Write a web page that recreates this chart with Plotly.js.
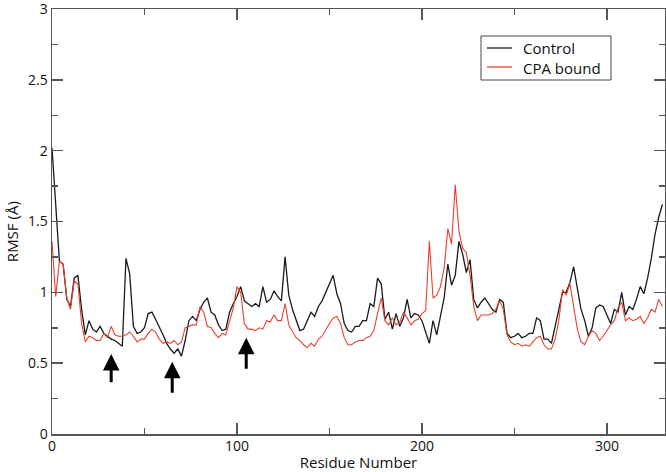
<!DOCTYPE html>
<html>
<head>
<meta charset="utf-8">
<script src="https://cdn.plot.ly/plotly-3.0.1.min.js"></script>
<style>
html,body{margin:0;padding:0;background:#fff;}
#chart{width:666px;height:472px;}
</style>
</head>
<body>
<div id="chart"></div>
<script>
// Residue numbers (sampled every 2 residues)
const residues = [];
for (let r = 0; r <= 330; r += 2) residues.push(r);

// RMSF (Å) – Control
const control = [
2.02,1.64,1.22,1.2,0.95,0.9,1.1,1.12,0.88,0.7,
0.8,0.74,0.72,0.76,0.71,0.69,0.67,0.66,0.64,0.62,
1.24,1.13,0.76,0.71,0.72,0.75,0.85,0.86,0.81,0.76,
0.7,0.64,0.6,0.57,0.6,0.55,0.66,0.8,0.83,0.8,
0.88,0.93,0.96,0.86,0.84,0.77,0.73,0.74,0.86,0.92,
0.97,1.04,0.94,0.92,0.9,0.92,0.9,1.04,0.93,0.95,
1.01,0.97,0.94,1.25,0.98,0.88,0.8,0.73,0.74,0.8,
0.86,0.83,0.9,0.94,1.0,1.06,1.12,0.99,0.92,0.78,
0.73,0.72,0.76,0.76,0.8,0.8,0.92,0.9,1.1,1.06,
0.81,0.86,0.74,0.85,0.76,0.82,0.95,0.82,0.85,0.84,
0.8,0.72,0.64,0.8,0.7,0.83,0.96,1.2,1.05,1.12,
1.36,1.27,1.14,1.23,0.95,0.89,0.93,0.96,0.92,0.88,
0.86,0.95,0.93,0.71,0.68,0.69,0.71,0.68,0.69,0.71,
0.71,0.82,0.8,0.67,0.67,0.64,0.76,0.88,1.0,1.0,
1.07,1.18,1.02,0.88,0.8,0.69,0.75,0.89,0.91,0.9,
0.84,0.78,0.88,0.86,1.0,0.84,0.9,0.88,0.95,1.04,
0.99,1.1,1.24,1.41,1.53,1.62
];

// RMSF (Å) – CPA bound
const cpaBound = [
1.36,0.97,1.22,1.2,0.96,0.88,1.08,1.06,0.78,0.65,
0.69,0.68,0.66,0.66,0.71,0.68,0.76,0.7,0.69,0.69,
0.7,0.72,0.69,0.65,0.67,0.67,0.71,0.74,0.72,0.67,
0.64,0.65,0.64,0.66,0.63,0.65,0.75,0.76,0.77,0.77,
0.9,0.86,0.76,0.75,0.71,0.68,0.71,0.7,0.8,0.89,
1.04,1.0,0.78,0.74,0.74,0.73,0.75,0.74,0.8,0.79,
0.84,0.8,0.8,0.92,0.77,0.72,0.68,0.66,0.63,0.61,
0.64,0.62,0.67,0.69,0.74,0.78,0.82,0.83,0.78,0.68,
0.63,0.63,0.65,0.66,0.66,0.68,0.69,0.73,0.85,0.96,
0.8,0.77,0.82,0.77,0.79,0.86,0.82,0.77,0.8,0.81,
0.85,0.87,1.36,0.96,0.98,1.04,1.17,1.45,1.34,1.76,
1.43,1.31,1.28,1.12,0.9,0.8,0.84,0.84,0.84,0.85,
0.88,0.94,0.88,0.7,0.65,0.63,0.64,0.62,0.63,0.62,
0.65,0.68,0.69,0.63,0.6,0.6,0.67,0.8,1.02,0.98,
1.06,0.9,0.74,0.65,0.63,0.69,0.73,0.71,0.66,0.69,
0.73,0.77,0.8,0.89,0.93,0.8,0.82,0.8,0.81,0.83,
0.78,0.82,0.88,0.86,0.95,0.9
];

const seriesNames = ["Control", "CPA bound"];
const seriesColors = ["#1a1a1a", "#e8412c"];

// Arrow markers (residue, tip value, tail value)
const arrowResidues = [32, 65, 105];
const arrowTips = [0.565, 0.51, 0.68];
const arrowTails = [0.355, 0.28, 0.45];

const FONT = "Open Sans, Noto Sans, sans-serif";
const AX = "#555555";
const MT = 9, MB = 38;
const plotH = 472 - MT - MB;

const traces = [
  {x: residues, y: control, name: seriesNames[0], type: "scatter", mode: "lines",
   line: {color: seriesColors[0], width: 1.3}, showlegend: false},
  {x: residues, y: cpaBound, name: seriesNames[1], type: "scatter", mode: "lines",
   line: {color: seriesColors[1], width: 1.1}, showlegend: false}
];

const annotations = arrowResidues.map((r, i) => ({
  x: r, y: arrowTips[i], xref: "x", yref: "y",
  ax: 0, ay: (arrowTips[i] - arrowTails[i]) / 3 * plotH,
  showarrow: true, arrowhead: 2, arrowsize: 1.1, arrowwidth: 3, arrowcolor: "#000", text: ""
}));
annotations.push({
  text: "RMSF (Å)", xref: "paper", yref: "paper", x: 0, y: 0.475,
  xanchor: "center", yanchor: "middle", xshift: -40, textangle: -90, showarrow: false,
  font: {family: FONT, size: 15, color: "#111"}
});

// Legend (box, line samples, labels) in paper coordinates
const py = (px) => (472 - MB - px) / plotH;   // pixel row -> paper y
const pxx = (px) => (px - 52) / 613;           // pixel col -> paper x
const legRows = [48, 67];
const shapes = [{type: "rect", xref: "paper", yref: "paper",
  x0: pxx(481), x1: pxx(611), y0: py(80), y1: py(36),
  line: {color: "#444", width: 1}, fillcolor: "rgba(255,255,255,1)"}];
seriesNames.forEach((n, i) => {
  shapes.push({type: "line", xref: "paper", yref: "paper", x0: pxx(487), x1: pxx(512),
    y0: py(legRows[i]), y1: py(legRows[i]), line: {color: seriesColors[i], width: 1.3}});
});
annotations.push({text: seriesNames.join("<br>"), xref: "paper", yref: "paper",
  x: pxx(522), y: py((legRows[0] + legRows[1]) / 2), xanchor: "left", yanchor: "middle",
  align: "left", showarrow: false, borderpad: 0,
  font: {family: FONT, size: 15, color: "#111"}});

const axisCommon = {
  showline: true, linecolor: AX, linewidth: 1.5, mirror: "ticks",
  ticks: "inside", ticklen: 11, tickwidth: 1.5, tickcolor: AX,
  showgrid: false, zeroline: false, ticklabeloverflow: "allow",
  tickfont: {family: FONT, size: 14, color: "#111"}
};

const layout = {
  width: 666, height: 472,
  margin: {l: 52, r: 1, t: MT, b: MB},
  paper_bgcolor: "#fff", plot_bgcolor: "#fff",
  showlegend: false,
  xaxis: Object.assign({}, axisCommon, {
    range: [0, 331.4], dtick: 100, tick0: 0, ticklabelstandoff: -1,
    minor: {ticks: "inside", ticklen: 6, tickwidth: 1.5, tickcolor: AX, dtick: 50, showgrid: false},
    title: {text: "Residue Number", font: {family: FONT, size: 15, color: "#111"}, standoff: 4}
  }),
  yaxis: Object.assign({}, axisCommon, {
    range: [0, 3], dtick: 0.5, tick0: 0,
    minor: {ticks: "inside", ticklen: 6, tickwidth: 1.5, tickcolor: AX, dtick: 0.25, showgrid: false}
  }),
  shapes: shapes,
  annotations: annotations
};

Plotly.newPlot("chart", traces, layout, {displayModeBar: false, staticPlot: true});
</script>
</body>
</html>
